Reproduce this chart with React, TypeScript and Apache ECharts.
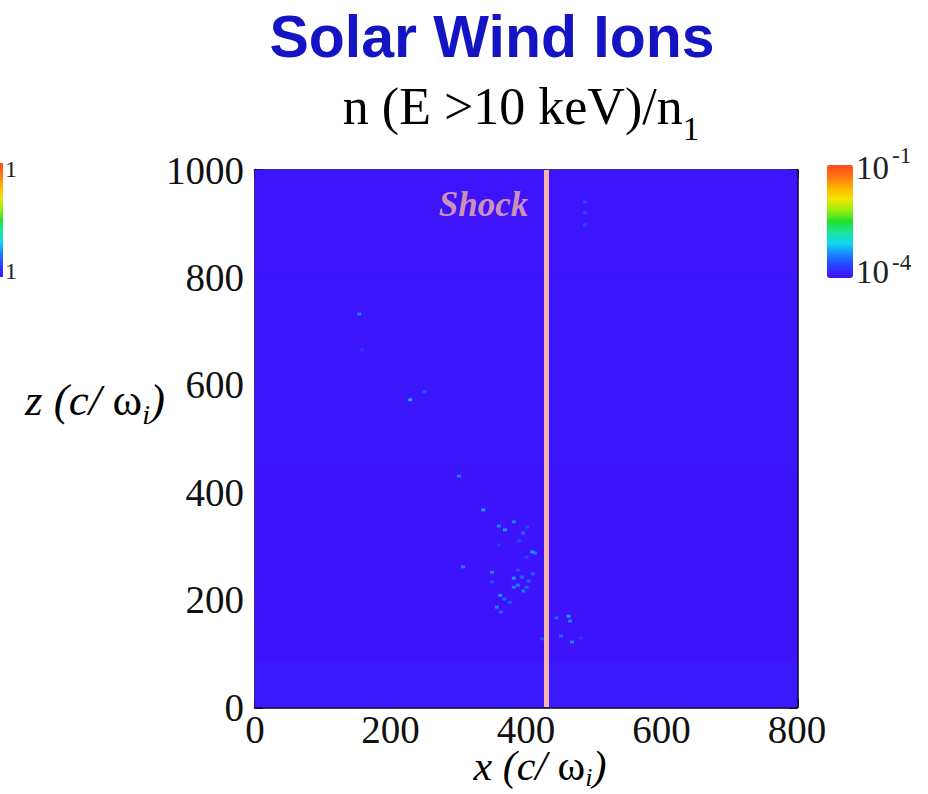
import React, { useEffect, useRef } from 'react';
import * as echarts from 'echarts';

// Axis ranges (c/ω_i) and tick steps
const X_MIN = 0;
const X_MAX = 800;
const Z_MIN = 0;
const Z_MAX = 1000;
const X_STEP = 200;
const Z_STEP = 200;

// Shock front position
const SHOCK_X = 430;
const SHOCK_LABEL_Z = 935;

// log10 density range of the colour scale
const LOG_MIN = -4;
const LOG_MAX = -1;

// Background density bands (whole x range), log10 values
const bandZ0 = [0, 85, 440, 800];
const bandZ1 = [85, 440, 800, 1000];
const bandLog = [-3.95, -3.99, -3.97, -3.985];

// Isolated energetic-ion cells: x, z and log10 density
const dotX = [154, 158, 229, 250, 301, 337, 360, 369, 382, 396, 402, 390, 360, 409, 413, 401, 307, 350, 388, 410, 382, 394, 404, 350, 388, 382, 401, 396, 362, 368, 376, 357, 363, 445, 463, 465, 452, 468, 481, 424, 487, 487, 487];
const dotZ = [732, 665, 572, 587, 430, 367, 337, 330, 345, 324, 335, 309, 302, 289, 287, 279, 261, 251, 255, 248, 240, 242, 235, 233, 227, 223, 223, 216, 208, 201, 195, 186, 177, 166, 169, 160, 132, 121, 128, 127, 940, 920, 898];
const dotLog = [-3.3, -3.7, -3.1, -3.5, -3.3, -3.2, -3.3, -3.2, -3.3, -3.4, -3.6, -3.6, -3.7, -3.2, -3.3, -3.6, -3.3, -3.3, -3.5, -3.4, -3.2, -3.4, -3.4, -3.5, -3.3, -3.3, -3.4, -3.3, -3.2, -3.4, -3.5, -3.3, -3.4, -3.4, -3.2, -3.3, -3.4, -3.3, -3.7, -3.5, -3.6, -3.6, -3.6];

// Rainbow colour scale, low to high
const SCALE_COLORS = ['#3e12fb', '#2a3cff', '#1a7cff', '#10d2f4', '#18e6a0', '#22e22a', '#9cee10', '#f2e400', '#ffb000', '#ff7414', '#ff4a1c'];

const SERIF = '"Liberation Serif", "Times New Roman", serif';
const SANS = '"Liberation Sans", Arial, sans-serif';

type Piece = { text: string; size: number; dy?: number; italic?: boolean; bold?: boolean; family?: string };

function fontOf(p: Piece): string {
  return `${p.italic ? 'italic ' : ''}${p.bold ? 'bold ' : ''}${p.size}px ${p.family || SERIF}`;
}

function measure(p: Piece): number {
  const c = document.createElement('canvas').getContext('2d')!;
  c.font = fontOf(p);
  return c.measureText(p.text).width;
}

// Text line made of several pieces (for subscripts), centred at cx with its baseline at y
function textLine(pieces: Piece[], cx: number, y: number, color = '#000') {
  const widths = pieces.map(measure);
  const total = widths.reduce((a, b) => a + b, 0);
  let x = cx - total / 2;
  const children: any[] = [];
  pieces.forEach((p, i) => {
    children.push({
      type: 'text',
      x,
      y: y + (p.dy || 0) - 0.35 * p.size,
      style: {
        text: p.text,
        fill: color,
        font: fontOf(p),
        verticalAlign: 'middle',
        align: 'left',
      },
    });
    x += widths[i];
  });
  return { type: 'group', children };
}

export default function App() {
  const ref = useRef<HTMLDivElement>(null);

  useEffect(() => {
    if (!ref.current) return;
    const chart = echarts.init(ref.current, undefined, { renderer: 'svg' });

    const bands = bandZ0.map((z0, i) => [X_MIN, z0, bandLog[i], X_MAX, bandZ1[i]]);
    const dots = dotX.map((x, i) => [x, dotZ[i], dotLog[i]]);

    const axisCommon = {
      type: 'value' as const,
      axisLine: { show: true, onZero: false, lineStyle: { color: '#000', width: 2.5 } },
      axisTick: { show: true, inside: true, length: 8, lineStyle: { color: '#000', width: 2.5 } },
      minorTick: { show: true, splitNumber: 2, length: 5, lineStyle: { color: '#000', width: 2.5 } },
      splitLine: { show: false },
    };
    const tickFont = {
      fontFamily: SERIF,
      fontSize: 39,
      lineHeight: 34,
      color: '#111',
      formatter: (v: number) => String(v),
    };

    const leftGradient = new echarts.graphic.LinearGradient(0, 1, 0, 0,
      SCALE_COLORS.map((c, i) => ({ offset: i / (SCALE_COLORS.length - 1), color: c })));

    chart.setOption({
      animation: false,
      backgroundColor: '#fff',
      grid: { left: 255, top: 170, width: 542, height: 537 },
      xAxis: [
        { ...axisCommon, min: X_MIN, max: X_MAX, interval: X_STEP, position: 'bottom',
          axisLabel: { ...tickFont, margin: 5 } },
        { ...axisCommon, min: X_MIN, max: X_MAX, interval: X_STEP, position: 'top',
          axisLabel: { show: false } },
      ],
      yAxis: [
        { ...axisCommon, min: Z_MIN, max: Z_MAX, interval: Z_STEP, position: 'left',
          axisLabel: { ...tickFont, margin: 11 } },
        { ...axisCommon, min: Z_MIN, max: Z_MAX, interval: Z_STEP, position: 'right',
          axisLabel: { show: false } },
      ],
      visualMap: {
        type: 'continuous',
        min: LOG_MIN,
        max: LOG_MAX,
        dimension: 2,
        seriesIndex: [0, 1],
        calculable: false,
        show: true,
        orient: 'vertical',
        left: 827,
        top: 165,
        itemWidth: 26,
        itemHeight: 113,
        padding: 0,
        inRange: { color: SCALE_COLORS },
      },
      series: [
        {
          type: 'custom',
          name: 'background',
          data: bands,
          encode: { x: [0, 3], y: [1, 4] },
          renderItem: (params: any, api: any) => {
            const p0 = api.coord([api.value(0), api.value(4)]);
            const p1 = api.coord([api.value(3), api.value(1)]);
            const color = api.visual('color');
            return {
              type: 'rect',
              shape: { x: p0[0], y: p0[1], width: p1[0] - p0[0], height: p1[1] - p0[1] },
              style: { fill: color, stroke: color, lineWidth: 1 },
            };
          },
          z: 1,
        },
        {
          type: 'scatter',
          name: 'ions',
          data: dots,
          symbol: 'rect',
          symbolSize: [4, 3],
          z: 3,
          markLine: {
            silent: true,
            symbol: 'none',
            data: [{ xAxis: SHOCK_X }],
            lineStyle: { color: '#f6b3a6', width: 5, type: 'solid' },
            label: { show: false },
            z: 4,
          },
        },
        {
          type: 'scatter',
          name: 'shock label',
          data: [[SHOCK_X, SHOCK_LABEL_Z]],
          symbolSize: 0,
          itemStyle: { color: 'transparent' },
          label: {
            show: true,
            position: 'left',
            distance: 18,
            formatter: 'Shock',
            fontFamily: SERIF,
            fontStyle: 'italic',
            fontWeight: 'bold',
            fontSize: 35,
            color: '#f6b3a6',
          },
          z: 5,
        },
      ],
      graphic: [
        {
          type: 'text',
          x: 492,
          y: 37,
          style: {
            text: 'Solar Wind Ions',
            font: `bold 59px ${SANS}`,
            fill: '#1414c4',
            align: 'center',
            verticalAlign: 'middle',
          },
        },
        textLine([
          { text: 'n (E >10 keV)/n', size: 52 },
          { text: '1', size: 33, dy: 16 },
        ], 521, 125),
        textLine([
          { text: 'z (c/ ', size: 45, italic: true },
          { text: 'ω', size: 45 },
          { text: 'i', size: 28, italic: true, dy: 8 },
          { text: ')', size: 45, italic: true },
        ], 95, 416),
        textLine([
          { text: 'x (c/ ', size: 42, italic: true },
          { text: 'ω', size: 42 },
          { text: 'i', size: 26, italic: true, dy: 6 },
          { text: ')', size: 42, italic: true },
        ], 540, 781),
        // colour bar labels
        { type: 'text', x: 856, y: 151, style: { text: '10', font: `33px ${SERIF}`, fill: '#222' } },
        { type: 'text', x: 892, y: 144, style: { text: '-1', font: `23px ${SERIF}`, fill: '#222' } },
        { type: 'text', x: 856, y: 255, style: { text: '10', font: `33px ${SERIF}`, fill: '#222' } },
        { type: 'text', x: 892, y: 251, style: { text: '-4', font: `23px ${SERIF}`, fill: '#222' } },
        // neighbouring panel's colour bar at the left edge
        { type: 'rect', shape: { x: 0, y: 163, width: 3, height: 114 }, style: { fill: leftGradient } },
        { type: 'text', x: 5, y: 157, style: { text: '1', font: `24px ${SERIF}`, fill: '#222' } },
        { type: 'text', x: 5, y: 259, style: { text: '1', font: `24px ${SERIF}`, fill: '#222' } },
      ],
    });

    return () => chart.dispose();
  }, []);

  return (
    <div
      ref={ref}
      style={{ position: 'fixed', left: 0, top: 0, width: 928, height: 794 }}
    />
  );
}
